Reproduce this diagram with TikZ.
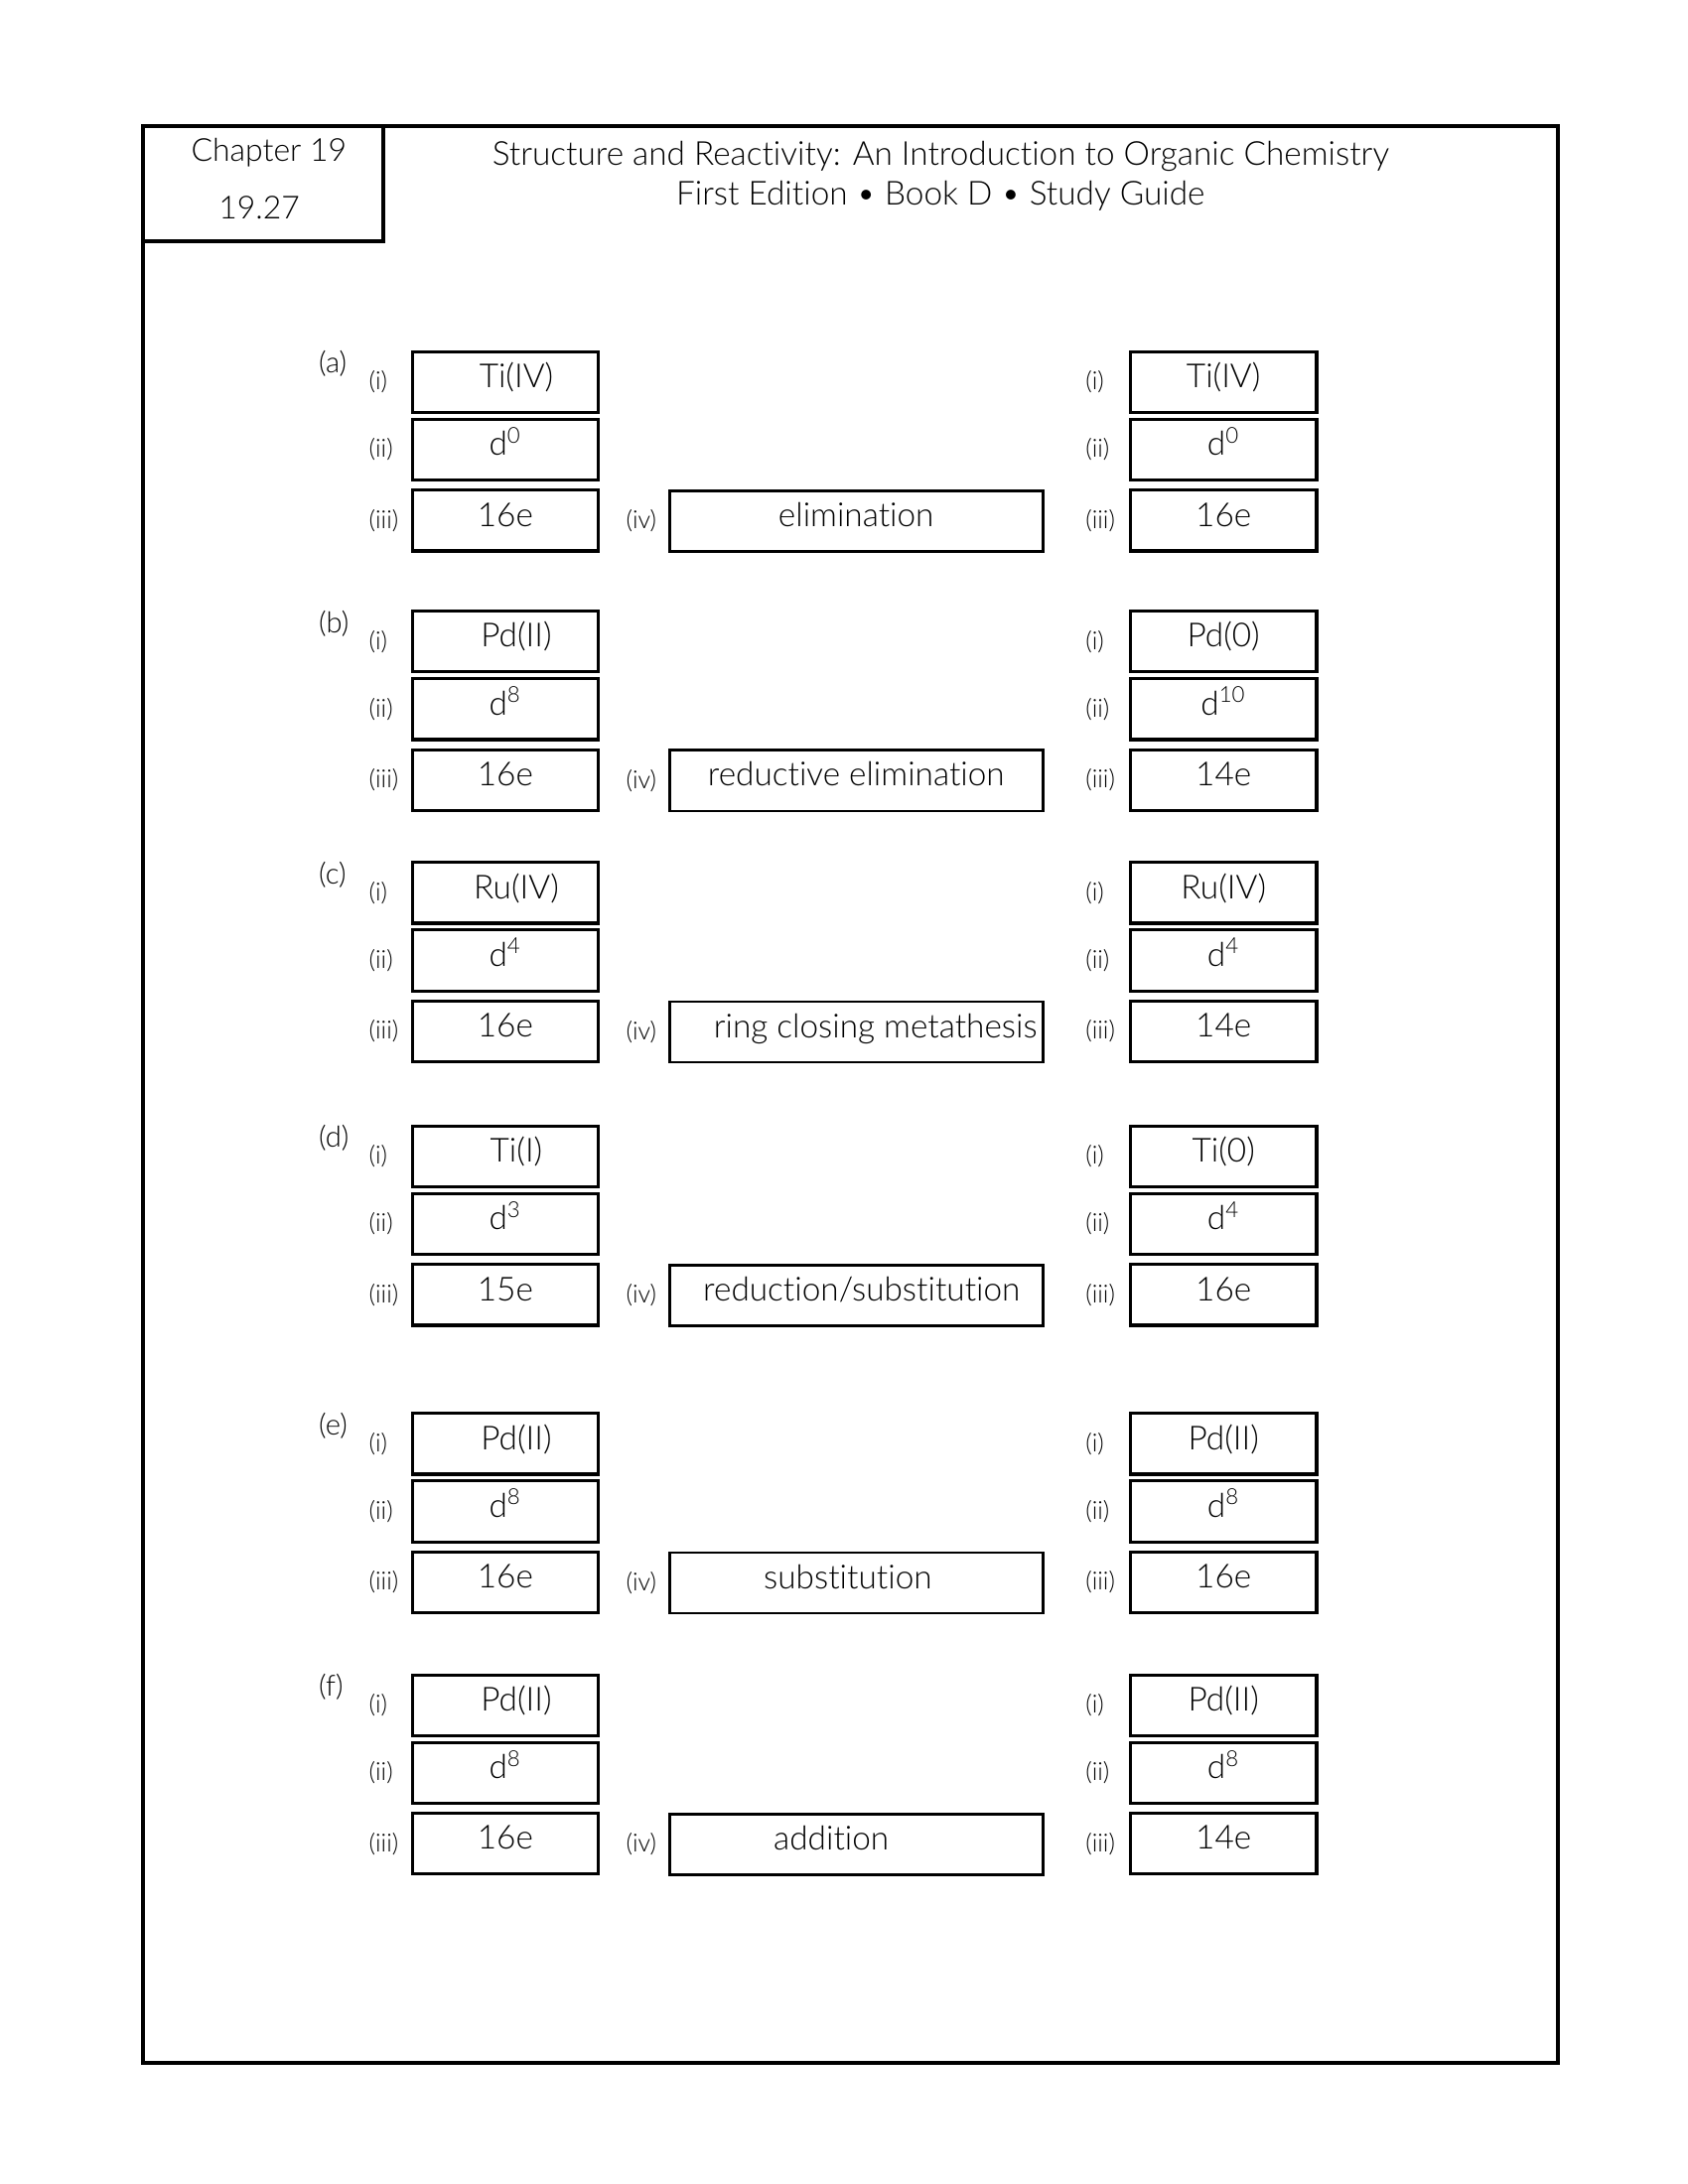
\documentclass[tikz,border=0pt]{standalone}
\usepackage{fontspec}
\setmainfont{Lato}[UprightFont={* Light}, Ligatures=NoCommon]
\usepackage{tikz}
\tikzstyle{cell} = [rectangle, draw=black, line width=1.1pt, minimum height=22pt, minimum width=67.5pt, inner sep=0pt, text height=8pt, text depth=4pt, font=\fontsize{12}{14}\selectfont]
\tikzstyle{longcell} = [cell, line width=1pt, minimum width=135.4pt]
\tikzstyle{tag} = [anchor=west, inner sep=0pt, font=\fontsize{9}{11}\selectfont]
\tikzstyle{part} = [anchor=west, inner sep=0pt, font=\fontsize{10.5}{12}\selectfont]
\tikzstyle{heading} = [anchor=base, inner sep=0pt, font=\fontsize{12}{14}\selectfont]
\tikzstyle{frame} = [draw=black, line width=1.44pt]

\begin{document}
\begin{tikzpicture}[x=1pt, y=-1pt]
        \useasboundingbox (0,0) rectangle (612,792);

        \draw[frame] (51.8,45.8) rectangle (565,748);
        \draw[frame] (51.8,45.8) rectangle (138.8,87.6);

        \node (chap) [heading, font=\fontsize{11.5}{13}\selectfont] at (97.5,58.6) {Chapter 19};
        \node (prob) [heading, font=\fontsize{11.5}{13}\selectfont] at (94,79.4) {19.27};
        \node (titleA) [heading] at (341,60) {Structure and Reactivity: An Introduction to Organic Chemistry};
        \node (titleB) [heading] at (341,74.4) {First Edition • Book D • Study Guide};

        \foreach \g/\T/\Li/\Lii/\Liii/\M/\mx/\Ri/\Rii/\Riii in {
            a/127.2/Ti(IV)/0/16e/elimination/0/Ti(IV)/0/16e,
            b/221.3/Pd(II)/8/16e/reductive elimination/0/Pd(0)/10/14e,
            c/312.4/Ru(IV)/4/16e/ring closing metathesis/7/Ru(IV)/4/14e,
            d/408.0/Ti(I)/3/15e/{reduction/substitution}/2/Ti(0)/4/16e,
            e/512.2/Pd(II)/8/16e/substitution/-3/Pd(II)/8/16e,
            f/607.0/Pd(II)/8/16e/addition/-9/Pd(II)/8/14e}
        {
            \node (\g) [part] at (115.4,\T+4.8) {(\g)};

            \node (\g-Li) [cell] at (183.2,\T+11.4) {\hspace{8pt}\Li};
            \node (\g-Lii) [cell] at (183.2,\T+35.9) {d\textsuperscript{\Lii}};
            \node (\g-Liii) [cell] at (183.2,\T+61.6) {\Liii};
            \node (\g-tLi) [tag] at (133.6,\T+11.4) {(i)};
            \node (\g-tLii) [tag] at (133.6,\T+35.9) {(ii)};
            \node (\g-tLiii) [tag] at (133.6,\T+61.6) {(iii)};

            \node (\g-M) [longcell] at (310.4,\T+61.8) {\hspace{\mx pt}\hspace{\mx pt}\M};
            \node (\g-tM) [tag] at (226.8,\T+61.8) {(iv)};

            \node (\g-Ri) [cell] at (443.6,\T+11.4) {\Ri};
            \node (\g-Rii) [cell] at (443.6,\T+35.9) {d\textsuperscript{\Rii}};
            \node (\g-Riii) [cell] at (443.6,\T+61.6) {\Riii};
            \node (\g-tRi) [tag] at (393.4,\T+11.4) {(i)};
            \node (\g-tRii) [tag] at (393.4,\T+35.9) {(ii)};
            \node (\g-tRiii) [tag] at (393.4,\T+61.6) {(iii)};
        }

    \end{tikzpicture}
\end{document}
